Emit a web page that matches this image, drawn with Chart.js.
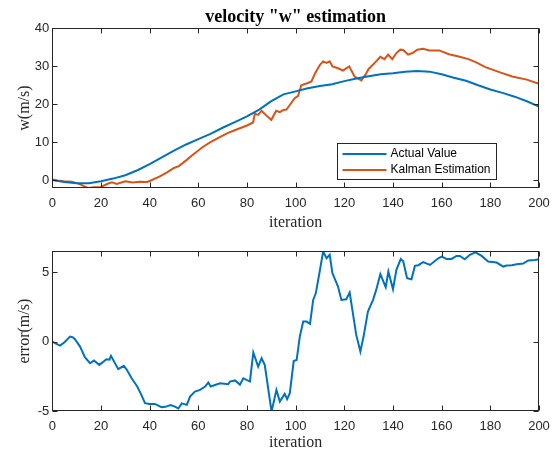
<!DOCTYPE html>
<html><head><meta charset="utf-8">
<script src="https://cdn.jsdelivr.net/npm/chart.js@4.4.0/dist/chart.umd.min.js"></script>
<style>
html,body{margin:0;padding:0;background:#fff;}
#w1{position:absolute;left:0;top:0;width:558px;height:230px;}
#w2{position:absolute;left:0;top:230px;width:558px;height:220px;}
</style></head><body>
<div id="w1"><canvas id="c1"></canvas></div>
<div id="w2"><canvas id="c2"></canvas></div>
<script>
// ---------- data ----------
const chartTitle = 'velocity "w" estimation';
const xTicks = [0,20,40,60,80,100,120,140,160,180,200];
const yTicksTop = [0,10,20,30,40];
const yTicksBottom = [-5,0,5];

const iterActual = [0,5,10,15,20,25,30,35,40,45,50,55,60,65,70,75,80,85,90,95,100,105,110,115,120,125,130,135,140,145,150,155,160,165,170,175,180,185,190,195,200];
const actualValue = [0.0,-0.5,-0.8,-0.8,-0.3,0.4,1.3,2.6,4.2,6.0,7.8,9.4,10.8,12.2,13.8,15.3,16.8,18.6,20.8,22.6,23.4,24.2,24.8,25.3,26.1,26.8,27.4,27.9,28.2,28.6,28.8,28.6,27.9,27.0,26.2,25.0,23.9,23.0,22.0,20.8,19.4];

const iterKalman = [0,2,4.5,8,11,13,15,17,20,23,24.5,26.5,30,33,36,39,40.5,44,47,50,52,55,58,62,65,69,72,76,80,82.5,83.2,84.6,86,88,90,92,93.5,95,96.2,97.6,99.6,101,102.3,105,106.5,108,110,111.3,112.7,114,115.1,117.4,119.4,122,124.2,127,128.7,130,132.5,134.8,136.5,138,139.7,141.4,143,144.2,146.2,148,150,152.4,155,159,163,167,171,174,178,184,189,195,200];
const kalmanValue = [0.2,-0.1,-0.3,-0.4,-1.0,-1.6,-2.1,-1.9,-1.8,-0.9,-0.6,-1.0,-0.3,-0.6,-0.4,-0.5,-0.1,0.9,2.0,3.2,3.7,5.2,6.8,8.8,10.0,11.4,12.4,13.4,14.4,15.2,17.5,17.2,18.3,17.0,15.9,18.3,17.9,18.5,18.6,19.8,21.6,22.2,25.0,25.6,26.0,28.2,30.4,31.3,30.9,31.3,30.0,29.5,28.9,30.0,27.3,26.3,27.8,29.3,30.9,32.5,31.9,33.1,31.9,33.5,34.4,34.3,33.1,33.5,34.4,34.6,34.2,34.2,33.2,32.6,31.9,31.1,29.8,28.4,27.3,26.5,25.4];

const iterError = [0,1.5,3.2,5,7.3,8.5,9.3,11.4,13.4,15.5,17.1,19.3,22.3,23.5,24.1,27.1,29.4,30.5,32.6,34.9,36.5,38.1,40,42.2,44.9,46.5,48.6,50.4,51.8,53.2,55.3,56.6,58.6,60.7,62.8,64.1,65.1,68.9,72.3,73,75.1,77.1,78.5,81.2,82.6,84.6,86,87.3,90.1,92.1,93.5,95.5,96.5,97.6,99.2,100.4,101.7,103.1,104.5,105.9,107.2,108.3,110,111.3,112.7,114,115.1,117.4,118.8,120.8,122.2,124.9,126.6,127.9,129.7,131.8,133.1,134.8,137,138.1,140,141.4,143.2,144.2,145.8,147.6,149,150.4,152.4,155.2,158.6,160,162,164.1,166.1,167.5,169.5,171.6,173.9,176.4,179.1,182.6,185.3,186.7,188.8,190.8,193.5,195.6,198.3,200];
const errorValue = [0,-0.15,-0.29,-0.05,0.36,0.3,0.17,-0.36,-1.13,-1.56,-1.37,-1.68,-1.27,-1.3,-1.03,-1.99,-1.75,-2.0,-2.64,-3.24,-3.8,-4.44,-4.5,-4.49,-4.73,-4.7,-4.57,-4.68,-4.82,-4.45,-4.56,-3.96,-3.6,-3.48,-3.24,-2.95,-3.24,-3.0,-3.07,-2.88,-2.8,-3.1,-2.64,-2.88,-0.79,-1.8,-1.2,-1.68,-5.04,-3.48,-4.32,-3.77,-4.15,-3.72,-1.4,-1.33,0.36,1.44,1.44,1.28,3.0,3.49,5.17,6.48,6.0,6.25,4.93,3.96,3.0,3.05,3.53,0.48,-0.72,0.36,2.16,3.0,3.72,4.85,3.92,5.04,3.77,5.17,5.94,5.78,4.56,4.49,5.45,5.5,5.72,5.52,6.0,6.12,5.95,5.95,6.17,6.17,5.93,6.25,6.42,6.17,5.76,5.69,5.4,5.47,5.5,5.57,5.62,5.84,5.88,5.93];

// ---------- helpers ----------
const pts = (xs, ys) => xs.map((x, i) => ({x: x, y: ys[i]}));
const BLUE = '#0072BD', ORANGE = '#D95319', AXC = '#262626';
const SANS = "'Liberation Sans', Arial, sans-serif";
const SERIF = "'Liberation Serif', 'Times New Roman', serif";

const framePlugin = {
  id: 'frame',
  afterDraw(chart) {
    const {ctx, chartArea: a, scales} = chart;
    const L = Math.round(a.left) + 0.5, R = Math.round(a.right) - 0.5;
    const T = Math.round(a.top) + 0.5, B = Math.round(a.bottom) - 0.5;
    ctx.save();
    ctx.strokeStyle = AXC; ctx.lineWidth = 1;
    ctx.strokeRect(L, T, R - L, B - T);
    ctx.beginPath();
    scales.x.ticks.forEach(t => {
      const px = Math.round(scales.x.getPixelForValue(t.value)) + 0.5;
      ctx.moveTo(px, B); ctx.lineTo(px, B - 5);
      ctx.moveTo(px, T); ctx.lineTo(px, T + 5);
    });
    scales.y.ticks.forEach(t => {
      const py = Math.round(scales.y.getPixelForValue(t.value)) + 0.5;
      ctx.moveTo(L, py); ctx.lineTo(L + 5, py);
      ctx.moveTo(R, py); ctx.lineTo(R - 5, py);
    });
    ctx.stroke();
    ctx.restore();
  }
};

const legendPlugin = {
  id: 'boxLegend',
  afterDraw(chart) {
    const {ctx, chartArea: a} = chart;
    const x0 = Math.round(a.left + 285) + 0.5, y0 = Math.round(a.top + 115) + 0.5;
    const w = 159, h = 36;
    ctx.save();
    ctx.fillStyle = '#fff';
    ctx.fillRect(x0, y0, w, h);
    ctx.strokeStyle = AXC; ctx.lineWidth = 1;
    ctx.strokeRect(x0, y0, w, h);
    ctx.font = '12px ' + SANS;
    ctx.textBaseline = 'middle';
    chart.data.datasets.forEach((ds, i) => {
      const y = y0 + 10.5 + i * 16;
      ctx.strokeStyle = ds.borderColor; ctx.lineWidth = 2;
      ctx.beginPath(); ctx.moveTo(x0 + 5, y); ctx.lineTo(x0 + 49, y); ctx.stroke();
      ctx.fillStyle = '#000';
      ctx.fillText(ds.label, x0 + 53, y);
    });
    ctx.restore();
  }
};

function makeOptions(cfg) {
  return {
    responsive: true, maintainAspectRatio: false, animation: false, devicePixelRatio: 1,
    layout: {padding: {left: 0, right: 19, top: cfg.padTop, bottom: 0}},
    plugins: {
      legend: {display: false},
      tooltip: {enabled: false},
      title: cfg.title ? {
        display: true, text: cfg.title, fullSize: false, color: '#000',
        font: {family: SERIF, size: 18, weight: 'bold', lineHeight: 1.1},
        padding: {top: 7, bottom: 1.6}
      } : {display: false}
    },
    scales: {
      x: {
        type: 'linear', min: 0, max: 200,
        grid: {display: false, drawTicks: false}, border: {display: false},
        afterBuildTicks: s => { s.ticks = xTicks.map(v => ({value: v})); },
        afterFit: s => { s.height = cfg.xHeight; },
        ticks: {font: {family: SANS, size: 13}, color: AXC, padding: 8, maxRotation: 0, autoSkip: false},
        title: {display: true, text: 'iteration', color: AXC, font: {family: SERIF, size: 16}, padding: {top: 0, bottom: -2}}
      },
      y: {
        type: 'linear', min: cfg.yMin, max: cfg.yMax,
        grid: {display: false, drawTicks: false}, border: {display: false},
        afterBuildTicks: s => { s.ticks = cfg.yTicks.map(v => ({value: v})); },
        afterFit: s => { s.width = 52.3; },
        ticks: {font: {family: SANS, size: 13}, color: AXC, padding: 3},
        title: {display: true, text: cfg.yTitle, color: AXC, font: {family: SERIF, size: 16}, padding: {top: 15, bottom: 0}}
      }
    }
  };
}

const lineDs = (label, data, color) => ({
  label: label, data: data, borderColor: color, backgroundColor: color,
  borderWidth: 2, pointRadius: 0, tension: 0, fill: false
});

new Chart(document.getElementById('c1'), {
  type: 'line',
  data: {datasets: [
    lineDs('Actual Value', pts(iterActual, actualValue), BLUE),
    lineDs('Kalman Estimation', pts(iterKalman, kalmanValue), ORANGE)
  ]},
  options: makeOptions({title: chartTitle, padTop: 0, xHeight: 42.3, yMin: -2, yMax: 40, yTicks: yTicksTop, yTitle: 'w(m/s)'}),
  plugins: [framePlugin, legendPlugin]
});

new Chart(document.getElementById('c2'), {
  type: 'line',
  data: {datasets: [
    lineDs('error', pts(iterError, errorValue), BLUE)
  ]},
  options: makeOptions({title: null, padTop: 21.3, xHeight: 39, yMin: -5, yMax: 6.5, yTicks: yTicksBottom, yTitle: 'error(m/s)'}),
  plugins: [framePlugin]
});
</script>
</body></html>
